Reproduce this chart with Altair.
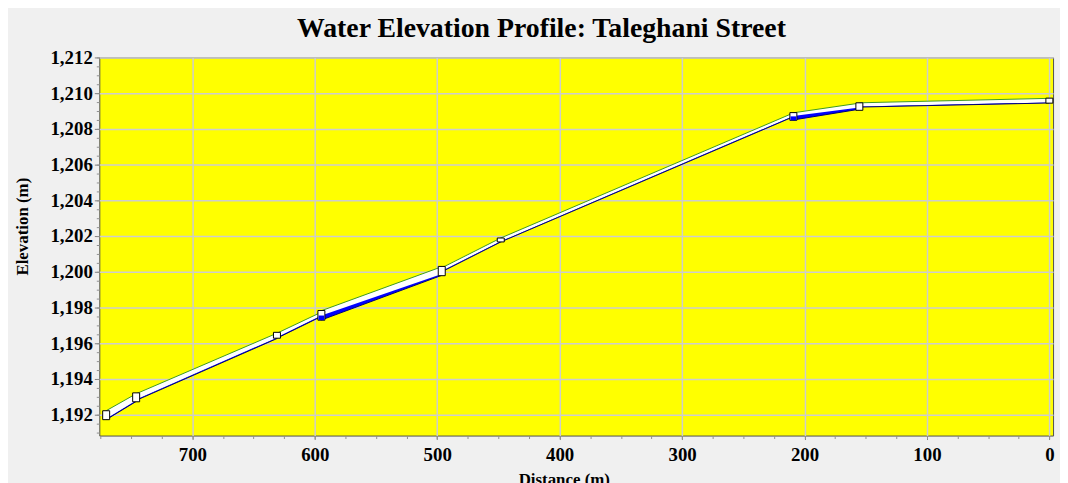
import altair as alt
import pandas as pd

TITLE = "Water Elevation Profile: Taleghani Street"
X_TITLE = "Distance (m)"
Y_TITLE = "Elevation (m)"

x_ticks = [700, 600, 500, 400, 300, 200, 100, 0]
y_ticks = [1192, 1194, 1196, 1198, 1200, 1202, 1204, 1206, 1208, 1210, 1212]
x_minor = [0, 25, 50, 75, 100, 125, 150, 175, 200, 225, 250, 275, 300, 325, 350,
           375, 400, 425, 450, 475, 500, 525, 550, 575, 600, 625, 650, 675, 700,
           725, 750, 775]
y_minor = [1191.0, 1191.5, 1192.0, 1192.5, 1193.0, 1193.5, 1194.0, 1194.5, 1195.0,
           1195.5, 1196.0, 1196.5, 1197.0, 1197.5, 1198.0, 1198.5, 1199.0, 1199.5,
           1200.0, 1200.5, 1201.0, 1201.5, 1202.0, 1202.5, 1203.0, 1203.5, 1204.0,
           1204.5, 1205.0, 1205.5, 1206.0, 1206.5, 1207.0, 1207.5, 1208.0, 1208.5,
           1209.0, 1209.5, 1210.0, 1210.5, 1211.0, 1211.5, 1212.0]

# conduits (start / end distance, crown, invert, water surface)
c_id = [1, 2, 3, 4, 5, 6, 7, 8]
c_d1 = [770.4, 745.9, 630.9, 594.6, 496.3, 448.1, 209.1, 155.2]
c_d2 = [745.9, 630.9, 594.6, 496.3, 448.1, 209.1, 155.2, 0.0]
top1 = [1192.22, 1193.17, 1196.56, 1197.82, 1200.22, 1201.89, 1208.90, 1209.46]
top2 = [1193.17, 1196.56, 1197.74, 1200.28, 1201.89, 1208.89, 1209.44, 1209.71]
bot1 = [1191.72, 1192.80, 1196.28, 1197.30, 1200.00, 1201.67, 1208.50, 1209.22]
bot2 = [1192.74, 1196.26, 1197.50, 1199.80, 1201.67, 1208.68, 1209.10, 1209.45]
wat1 = [1191.77, 1192.85, 1196.33, 1197.55, 1200.04, 1201.71, 1208.72, 1209.25]
wat2 = [1192.79, 1196.31, 1197.55, 1199.88, 1201.71, 1208.72, 1209.20, 1209.48]

# nodes (manholes)
n_dist = [770.4, 745.9, 630.9, 594.6, 496.3, 448.1, 209.1, 155.2, 0.0]
n_top = [1192.22, 1193.22, 1196.61, 1197.83, 1200.30, 1201.89, 1208.91, 1209.46, 1209.72]
n_bot = [1191.72, 1192.72, 1196.28, 1197.29, 1199.78, 1201.67, 1208.48, 1209.04, 1209.44]
n_wat = [1191.72, 1192.72, 1196.28, 1197.55, 1199.78, 1201.67, 1208.70, 1209.04, 1209.44]
NODE_HALF_W = 2.85  # half width of node box in metres along the profile

rows = []
for i, cid in enumerate(c_id):
    rows.append({"cid": cid, "dist": c_d1[i], "top": top1[i], "bot": bot1[i], "wat": wat1[i]})
    rows.append({"cid": cid, "dist": c_d2[i], "top": top2[i], "bot": bot2[i], "wat": wat2[i]})
cond = pd.DataFrame(rows)
nodes = pd.DataFrame({"dist": n_dist, "top": n_top, "bot": n_bot, "wat": n_wat})
nodes["d1"] = nodes["dist"] - NODE_HALF_W
nodes["d2"] = nodes["dist"] + NODE_HALF_W
nodes_w = nodes[nodes["wat"] > nodes["bot"]].copy()
nodes_w["d1"] = nodes_w["dist"] - NODE_HALF_W + 0.5
nodes_w["d2"] = nodes_w["dist"] + NODE_HALF_W - 0.5
minor = pd.DataFrame({"dist": [0.0], "elev": [1200.0]})

FONT = "Liberation Serif"
XS = alt.Scale(domain=[-3, 776], reverse=True, nice=False, zero=False, padding=0)
YS = alt.Scale(domain=[1190.83, 1212], nice=False, zero=False, padding=0)

x_axis = alt.Axis(values=x_ticks, format="d", grid=True, gridColor="#cdcdcd", gridWidth=1.5,
                  domain=False, tickColor="#808080", tickSize=4, labelFont=FONT,
                  labelFontSize=19, labelFontWeight="bold", labelColor="black",
                  labelPadding=6, labelOverlap=False, title=X_TITLE, titleFont=FONT,
                  titleFontSize=17, titleFontWeight="bold", titleColor="black",
                  titleX=468, titleY=49, titleAlign="center", titleBaseline="alphabetic",
                  orient="bottom")
y_axis = alt.Axis(values=y_ticks, format=",d", grid=True, gridColor="#cdcdcd", gridWidth=1.5,
                  domain=False, tickColor="#808080", tickSize=5, labelFont=FONT,
                  labelFontSize=19, labelFontWeight="bold", labelColor="black",
                  labelPadding=2, labelOverlap=False, title=Y_TITLE, titleFont=FONT,
                  titleFontSize=17, titleFontWeight="bold", titleColor="black",
                  titleX=-77, titleY=170, titleAlign="center", titleBaseline="middle",
                  titleAngle=270, orient="left")

base = alt.Chart(cond)
pipe = base.mark_area(color="white", opacity=1).encode(
    x=alt.X("dist:Q", scale=XS, axis=x_axis),
    y=alt.Y("top:Q", scale=YS, axis=y_axis),
    y2="bot:Q",
    detail="cid:N",
)
water = base.mark_area(color="#0000ff").encode(
    x=alt.X("dist:Q", scale=XS, axis=None), y=alt.Y("wat:Q", scale=YS, axis=None),
    y2="bot:Q", detail="cid:N"
)
topline = base.mark_line(color="#3c9a1e", strokeWidth=1).encode(
    x=alt.X("dist:Q", scale=XS, axis=None), y=alt.Y("top:Q", scale=YS, axis=None),
    detail="cid:N"
)
botline = base.mark_line(color="#00006e", strokeWidth=1).encode(
    x=alt.X("dist:Q", scale=XS, axis=None), y=alt.Y("bot:Q", scale=YS, axis=None),
    detail="cid:N"
)
nodebox = alt.Chart(nodes).mark_rect(fill="white", stroke="black", strokeWidth=1).encode(
    x=alt.X("d1:Q", scale=XS, axis=None), x2="d2:Q",
    y=alt.Y("top:Q", scale=YS, axis=None), y2="bot:Q"
)
nodewater = alt.Chart(nodes_w).mark_rect(color="#0000ff").encode(
    x=alt.X("d1:Q", scale=XS, axis=None), x2="d2:Q",
    y=alt.Y("wat:Q", scale=YS, axis=None), y2="bot:Q"
)

minor_layer = alt.Chart(minor).mark_point(opacity=0).encode(
    x=alt.X("dist:Q", scale=XS,
            axis=alt.Axis(values=x_minor, labels=False, grid=False, domain=False,
                          tickColor="#909090", tickSize=3, title="", orient="bottom")),
    y=alt.Y("elev:Q", scale=YS,
            axis=alt.Axis(values=y_minor, labels=False, grid=False, domain=False,
                          tickColor="#909090", tickSize=3, title="", orient="left")),
)

chart = alt.layer(pipe, water, topline, botline, nodebox, nodewater, minor_layer).resolve_axis(
    x="independent", y="independent"
).properties(
    width=961,
    height=381,
    padding={"left": 92, "top": 48, "right": 7, "bottom": 46},
    autosize=alt.AutoSizeParams(type="none"),
    background="#f0f0f0",
    title=alt.TitleParams(TITLE, font=FONT, fontSize=28, fontWeight="bold", color="black",
                          anchor="middle", frame="group", dx=-35, offset=-16,
                          baseline="alphabetic"),
).configure_view(fill="#ffff00", stroke="#505050", strokeWidth=1)

chart.save("out.html", embed_options={"renderer": "svg", "actions": False})
